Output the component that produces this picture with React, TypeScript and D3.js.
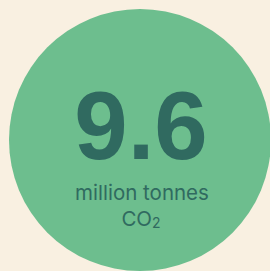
import React from "react";
import * as d3 from "d3";

const values = [9.6];
const labels = ["million tonnes"];
const unitLabels = ["CO", "2"];

const width = 270;
const height = 271;

const App = () => {
  const format = d3.format(".1f");
  const cx = 140;
  const cy = 140;
  const radius = 131;
  const font = "'Liberation Sans', Arial, sans-serif";
  const smallFont = "Inter, 'Liberation Sans', sans-serif";

  return (
    <div style={{ position: "fixed", left: 0, top: 0 }}>
      <svg width={width} height={height} style={{ display: "block", background: "#f9f0e1" }}>
        <circle cx={cx} cy={cy} r={radius} fill="#6dbe8e" />
        <text
          x={cx + 1}
          y={159}
          textAnchor="middle"
          fontFamily={font}
          fontWeight="bold"
          fontSize={96}
          fill="#306a60"
        >
          {format(values[0])}
        </text>
        <text x={cx + 2} y={200} textAnchor="middle" fontFamily={smallFont} fontSize={20.5} fill="#306a60">
          {labels[0]}
        </text>
        <text x={cx + 1} y={226} textAnchor="middle" fontFamily={smallFont} fontSize={20.5} fill="#306a60">
          {unitLabels[0]}
          <tspan fontSize={14} dy={2}>{unitLabels[1]}</tspan>
        </text>
      </svg>
    </div>
  );
};

export default App;
